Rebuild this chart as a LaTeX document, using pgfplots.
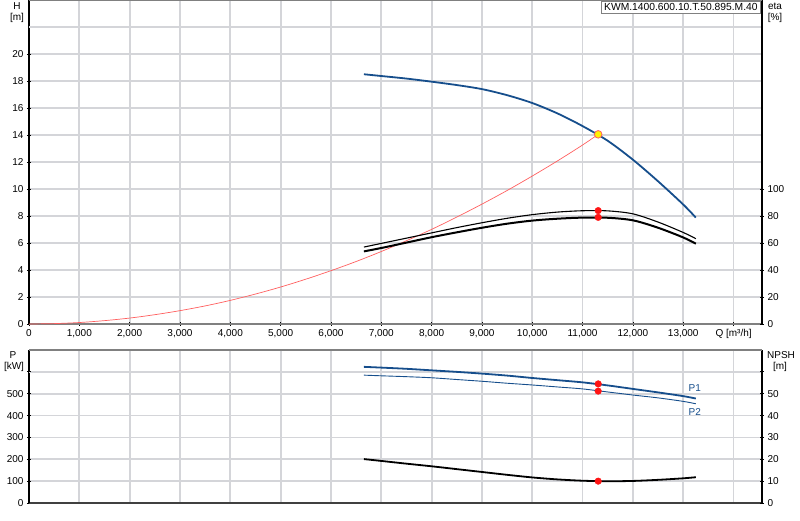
\documentclass[border=0pt]{standalone}
\usepackage{fontspec}
\setmainfont{Liberation Sans}
\usepackage{pgfplots}
\pgfplotsset{compat=1.18}
\definecolor{hblue}{RGB}{22,78,140}
\definecolor{gridc}{RGB}{212,213,217}
\definecolor{redl}{RGB}{255,95,95}
\definecolor{ptred}{RGB}{255,20,20}

\begin{document}
\fontsize{10}{12}\selectfont
\begin{tikzpicture}
\useasboundingbox (0pt,0pt) rectangle (800pt,-520pt);
\pgfplotsset{
 common/.style={
  scale only axis, width=733pt,
  xmin=0, xmax=14565,
  scaled ticks=false,
  axis line style={black,line width=1.2pt},
  tick style={black,line width=0.8pt},
  tick align=outside, major tick length=4pt,
  ticklabel style={font=\fontsize{10}{12}\selectfont},
  /pgf/number format/assume math mode=true,
  /pgf/number format/1000 sep={,},
  grid style={gridc,line width=1.8pt},
  clip=false,
 }
}
% ---------------- top panel: H ----------------
\begin{axis}[common, at={(29pt,-324pt)}, anchor=south west, height=324pt,
  ymin=0, ymax=24,
  axis x line=bottom, axis y line=left,
  x axis line style={gray,line width=2.5pt,-},
  y axis line style={black,line width=1.3pt,-},
  xtick={0,1000,...,14000},
  xticklabels={0,{1,000},{2,000},{3,000},{4,000},{5,000},{6,000},{7,000},{8,000},{9,000},{10,000},{11,000},{12,000},{13,000},{Q [m³/h]}},
  ytick={0,2,...,20},
  extra y ticks={22}, extra y tick labels={},
  extra y tick style={major tick length=0pt, grid=major},
  xmajorgrids, ymajorgrids,
]
\addplot[redl, line width=0.7pt, smooth] coordinates {
(0,0) (500,0.03) (1000,0.11) (1500,0.25) (2000,0.44) (2500,0.69) (3000,0.99)
(3500,1.34) (4000,1.75) (4500,2.22) (5000,2.74) (5500,3.32) (6000,3.95)
(6500,4.63) (7000,5.37) (7500,6.17) (8000,7.01) (8500,7.92) (9000,8.88)
(9500,9.89) (10000,10.96) (10500,12.08) (11000,13.26) (11310,14.05)};
\addplot[hblue, line width=1.8pt, smooth] coordinates {
(6655,18.50) (7000,18.37) (7500,18.18) (8000,17.95) (8500,17.70) (9000,17.40)
(9500,16.95) (10000,16.37) (10500,15.60) (11000,14.66) (11500,13.57)
(12000,12.17) (12500,10.57) (13000,8.85) (13250,7.88)};
\addplot[only marks, mark=*, mark size=3.8pt, mark options={fill=yellow, draw=redl, line width=0.8pt}] coordinates {(11310,14.05)};
\end{axis}
% ---------------- top panel: eta ----------------
\begin{axis}[common, at={(29pt,-324pt)}, anchor=south west, height=324pt,
  ymin=0, ymax=240,
  axis x line=none, axis y line=right,
  y axis line style={black,line width=1.8pt,-},
  ytick={0,20,...,100},
]
\addplot[black, line width=1.1pt, smooth] coordinates {
(6655,57.0) (7000,59.7) (7500,63.6) (8000,67.5) (8500,71.4) (9000,75.0)
(9500,78.3) (10000,81.0) (10500,82.9) (11000,83.9) (11500,83.8) (12000,81.6)
(12500,75.5) (13000,67.8) (13250,63.2)};
\addplot[black, line width=2pt, smooth] coordinates {
(6655,53.8) (7000,56.3) (7500,60.3) (8000,64.3) (8500,67.9) (9000,71.3)
(9500,74.3) (10000,76.6) (10500,78.0) (11000,78.8) (11500,78.7) (12000,76.8)
(12500,71.3) (13000,64.1) (13250,59.5)};
\addplot[only marks, mark=*, mark size=3.3pt, ptred] coordinates {(11310,84.0) (11310,79.0)};
\end{axis}
% ---------------- bottom panel: P ----------------
\begin{axis}[common, at={(29pt,-503pt)}, anchor=south west, height=153pt,
  ymin=0, ymax=700,
  axis x line=bottom, axis y line=left,
  x axis line style={black!75,line width=1.5pt,-},
  y axis line style={black,line width=1.3pt,-},
  xtick={0,1000,...,14000}, xticklabels={}, xtick style={draw=none},
  ytick={0,100,...,500},
  extra y ticks={600}, extra y tick labels={},
  extra y tick style={grid=major},
  xmajorgrids, ymajorgrids,
]
\addplot[hblue, line width=1.8pt, smooth] coordinates {
(6655,623) (7000,619.5) (7500,614) (8000,607) (8500,600) (9000,592) (9500,583)
(10000,572) (10500,562) (11000,552) (11500,538) (12000,522) (12500,506)
(13000,489) (13250,478)};
\addplot[hblue, line width=0.9pt, smooth] coordinates {
(6655,585) (7000,582) (7500,578) (8000,573) (8500,565) (9000,557) (9500,548)
(10000,540) (10500,531) (11000,522) (11500,508) (12000,494) (12500,481)
(13000,465) (13250,454)};
\addplot[only marks, mark=*, mark size=3.3pt, ptred] coordinates {(11310,545) (11310,512)};
\node[text=hblue, font=\fontsize{10}{12}\selectfont] at (axis cs:13230,524) {P1};
\node[text=hblue, font=\fontsize{10}{12}\selectfont] at (axis cs:13230,417) {P2};
\end{axis}
% ---------------- bottom panel: NPSH ----------------
\begin{axis}[common, at={(29pt,-503pt)}, anchor=south west, height=153pt,
  ymin=0, ymax=70,
  axis x line=none, axis y line=right,
  y axis line style={black,line width=1.8pt,-},
  ytick={0,10,...,50},
  extra y ticks={60}, extra y tick labels={},
]
\addplot[black, line width=1.8pt, smooth] coordinates {
(6655,20.1) (7000,19.25) (7500,18.0) (8000,16.8) (8500,15.5) (9000,14.2)
(9500,12.9) (10000,11.7) (10500,10.8) (11000,10.2) (11500,9.95) (12000,10.1)
(12500,10.6) (13000,11.3) (13250,11.8)};
\addplot[only marks, mark=*, mark size=3.3pt, ptred] coordinates {(11310,10.0)};
\end{axis}
% frame tops and labels
\draw[gray, line width=1.2pt] (29pt,-0.6pt) -- (762pt,-0.6pt);
\draw[gray, line width=1.2pt] (29pt,-350pt) -- (762pt,-350pt);
\node[draw=gray, fill=white, line width=0.8pt, anchor=north east, inner xsep=3pt, inner ysep=2.5pt,
  font=\fontsize{10.3}{12}\selectfont] at (761pt,-0.6pt) {KWM.1400.600.10.T.50.895.M.40};
\node[font=\fontsize{10}{12}\selectfont] at (17pt,-6pt) {H};
\node[font=\fontsize{10}{12}\selectfont] at (17pt,-18pt) {[m]};
\node[font=\fontsize{10}{12}\selectfont] at (775pt,-6pt) {eta};
\node[font=\fontsize{10}{12}\selectfont] at (775pt,-18pt) {[\%]};
\node[font=\fontsize{10}{12}\selectfont] at (13pt,-355pt) {P};
\node[font=\fontsize{10}{12}\selectfont] at (14pt,-367pt) {[kW]};
\node[font=\fontsize{10}{12}\selectfont] at (781pt,-355pt) {NPSH};
\node[font=\fontsize{10}{12}\selectfont] at (780pt,-367pt) {[m]};
\end{tikzpicture}
\end{document}
